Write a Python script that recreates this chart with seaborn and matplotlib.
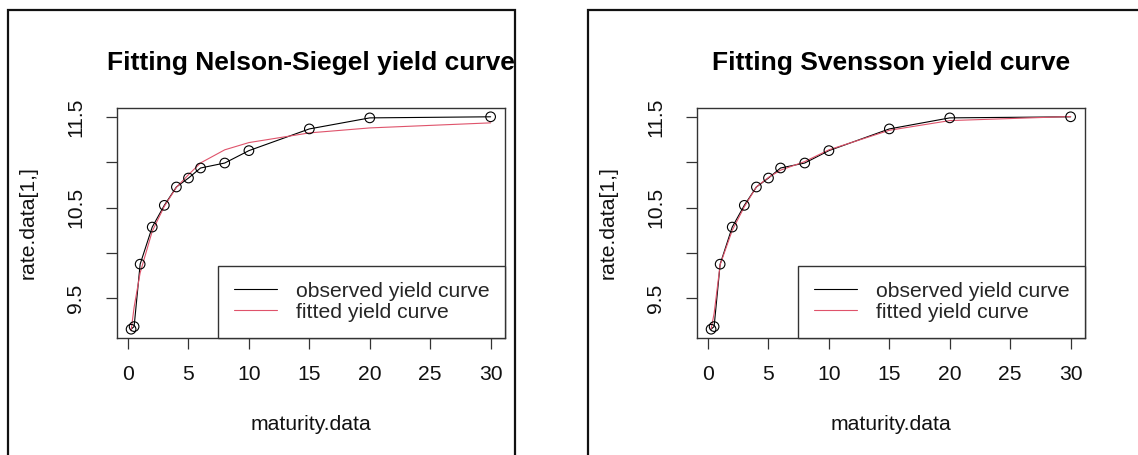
import matplotlib
matplotlib.use("Agg")
import matplotlib.pyplot as plt
from matplotlib.patches import Rectangle
from matplotlib.lines import Line2D
import seaborn as sns
import pandas as pd

# Term structure: maturities (years) and observed rates
maturity = [0.25, 0.5, 1, 2, 3, 4, 5, 6, 8, 10, 15, 20, 30]
observed = [9.157, 9.186, 9.876, 10.286, 10.526, 10.729, 10.828,
            10.939, 10.994, 11.131, 11.371, 11.493, 11.505]

# Fitted rates at the same maturities
ns_fitted = [9.14, 9.40, 9.78, 10.24, 10.515, 10.725, 10.865,
             10.995, 11.14, 11.22, 11.327, 11.382, 11.438]
sv_fitted = [9.16, 9.33, 9.87, 10.25, 10.51, 10.73, 10.835,
             10.915, 11.01, 11.14, 11.356, 11.463, 11.508]

titles = ["Fitting Nelson-Siegel yield curve", "Fitting Svensson yield curve"]
x_ticks = [0, 5, 10, 15, 20, 25, 30]
y_ticks = [9.5, 10.0, 10.5, 11.0, 11.5]
y_tick_labels = ["9.5", "", "10.5", "", "11.5"]
legend_labels = ["observed yield curve", "fitted yield curve"]

RED = "#DF536B"
INK = "#000000"
FRAME = "#333333"
TXT = 15.2

sns.set_style("white")
plt.rcParams["font.family"] = ["Liberation Sans", "DejaVu Sans"]

W, H = 1138, 455
fig = plt.figure(figsize=(W / 100, H / 100), dpi=100)

# panel geometry in pixels
box_left = [116.7, 696.7]
box_top, box_bottom = 108.3, 337.7
box_w = 388.3
box_h = box_bottom - box_top
frame_left = [8, 588]
frame_w = [507, 560]

def rlim(vals):
    lo, hi = min(vals), max(vals)
    pad = 0.04 * (hi - lo)
    return lo - pad, hi + pad

for i, (title, fitted) in enumerate(zip(titles, [ns_fitted, sv_fitted])):
    # outer device frame
    fig.patches.append(Rectangle((frame_left[i] / W, -0.1), frame_w[i] / W, 1.1 - 10 / H,
                                 transform=fig.transFigure, fill=False,
                                 edgecolor="#111111", linewidth=1.6))

    ax = fig.add_axes([box_left[i] / W, 1 - box_bottom / H, box_w / W, box_h / H])
    df = pd.DataFrame({"maturity": maturity, "observed": observed, "fitted": fitted})

    sns.lineplot(data=df, x="maturity", y="observed", ax=ax, color=INK,
                 linewidth=0.8, estimator=None, sort=False)
    sns.scatterplot(data=df, x="maturity", y="observed", ax=ax, marker="o",
                    s=48, facecolor="none", edgecolor=INK, linewidth=0.8, zorder=3)
    sns.lineplot(data=df, x="maturity", y="fitted", ax=ax, color=RED,
                 linewidth=0.8, estimator=None, sort=False)

    ax.set_xlim(*rlim(maturity))
    ax.set_ylim(*rlim(observed))
    ax.set_xticks(x_ticks)
    ax.set_xticklabels([str(t) for t in x_ticks])
    ax.set_yticks(y_ticks)
    ax.set_yticklabels(y_tick_labels)

    for sp in ax.spines.values():
        sp.set_visible(True)
        sp.set_color(FRAME)
        sp.set_linewidth(1.0)

    ax.tick_params(axis="both", which="both", direction="out", length=8,
                   width=0.9, color=FRAME, labelsize=TXT, labelcolor="#111111")
    ax.tick_params(axis="x", pad=12, bottom=True)
    ax.tick_params(axis="y", pad=14.5, left=True)
    for lab in ax.get_yticklabels():
        lab.set_rotation(90)
        lab.set_va("center")

    ax.set_xlabel("maturity.data", fontsize=TXT, color="#111111")
    ax.set_ylabel("rate.data[1,]", fontsize=TXT, color="#111111")
    ax.xaxis.set_label_coords(0.5, -(424 - box_bottom) / box_h)
    ax.xaxis.label.set_va("center")
    ax.yaxis.set_label_coords(-(box_left[i] - frame_left[i] - 20) / box_w, 0.5)
    ax.yaxis.label.set_va("center")

    ax.text(0.5, 1 + (box_top - 63) / box_h, title,
            transform=ax.transAxes, ha="center", va="center",
            fontsize=19, fontweight="bold", color="#000000")

    handles = [Line2D([], [], color=INK, linewidth=0.8),
               Line2D([], [], color=RED, linewidth=0.8)]
    leg = ax.legend(handles, legend_labels, loc="lower right", borderaxespad=0,
                    fontsize=TXT, frameon=True, fancybox=False, framealpha=1,
                    edgecolor=FRAME, handlelength=2.0, handletextpad=0.9,
                    borderpad=0.75, labelspacing=0.1)
    leg.get_frame().set_linewidth(1.0)

fig.savefig("out.png", dpi=100)
